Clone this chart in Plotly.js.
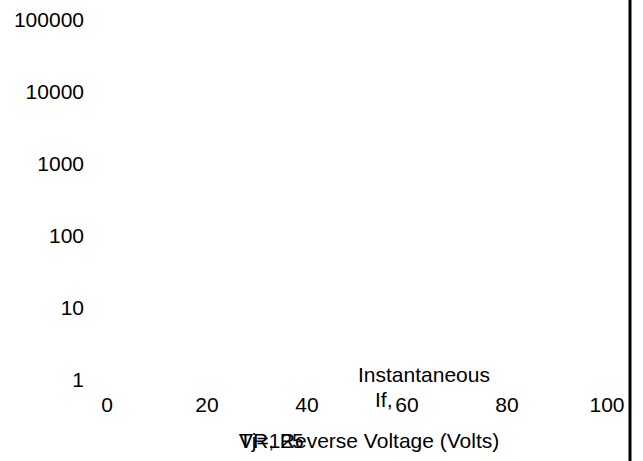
<!DOCTYPE html>
<html>
<head>
<meta charset="utf-8">
<script src="https://cdn.plot.ly/plotly-3.0.1.min.js"></script>
<style>html,body{margin:0;padding:0;background:#fff;}#chart{width:643px;height:461px;}</style>
</head>
<body>
<div id="chart"></div>
<script>
// Data (the reference shows no plotted marks, only axes and labels)
var xValues = [];
var yValues = [];
var xTickVals = [0, 20, 40, 60, 80, 100];
var xTickText = ["0", "20", "40", "60", "80", "100"];
var yTickVals = [1, 10, 100, 1000, 10000, 100000];
var yTickText = ["1", "10", "100", "1000", "10000", "100000"];
var xTitle = "VR, Reverse Voltage (Volts)";
var noteTj = "Tj=125";
var noteInst = "Instantaneous";
var noteIf = "If,";

var FONT = "Liberation Sans, Arial, sans-serif";
var FS = 21;

var trace = {
  x: xValues, y: yValues, type: "scatter", mode: "lines",
  line: {color: "#000", width: 2}, showlegend: false, hoverinfo: "skip"
};

var layout = {
  width: 643, height: 461,
  margin: {l: 85, r: 13, t: 10, b: 71, pad: 0},
  paper_bgcolor: "#fff", plot_bgcolor: "#fff",
  font: {family: FONT, size: FS, color: "#000"},
  showlegend: false,
  xaxis: {
    range: [-4.4, 104.6], tickvals: xTickVals, ticktext: xTickText,
    showgrid: false, zeroline: false, showline: false, ticks: "",
    tickfont: {family: FONT, size: FS, color: "#000"}, fixedrange: true
  },
  yaxis: {
    type: "log", range: [-0.139, 5.139], tickvals: yTickVals, ticktext: yTickText,
    showgrid: false, zeroline: false, showline: false, ticks: "",
    tickfont: {family: FONT, size: FS, color: "#000"}, fixedrange: true
  },
  shapes: [{
    type: "line", xref: "paper", yref: "paper",
    x0: 1, x1: 1, y0: -0.2, y1: 1.03,
    line: {color: "#000", width: 3}
  }],
  annotations: [
    {text: xTitle, xref: "paper", yref: "paper", x: 0.2789, y: -0.1316,
     xanchor: "left", yanchor: "middle", showarrow: false,
     font: {family: FONT, size: FS, color: "#000"}},
    {text: noteTj, xref: "paper", yref: "paper", x: 0.2789, y: -0.1316,
     xanchor: "left", yanchor: "middle", showarrow: false,
     font: {family: FONT, size: FS, color: "#000"}},
    {text: noteInst, xref: "paper", yref: "paper", x: 0.622, y: 0.0421,
     xanchor: "center", yanchor: "middle", showarrow: false,
     font: {family: FONT, size: FS, color: "#000"}},
    {text: noteIf, xref: "paper", yref: "paper", x: 0.5284, y: -0.0263,
     xanchor: "left", yanchor: "middle", showarrow: false,
     font: {family: FONT, size: FS, color: "#000"}}
  ]
};

Plotly.newPlot("chart", [trace], layout, {displayModeBar: false, staticPlot: true});
</script>
</body>
</html>
